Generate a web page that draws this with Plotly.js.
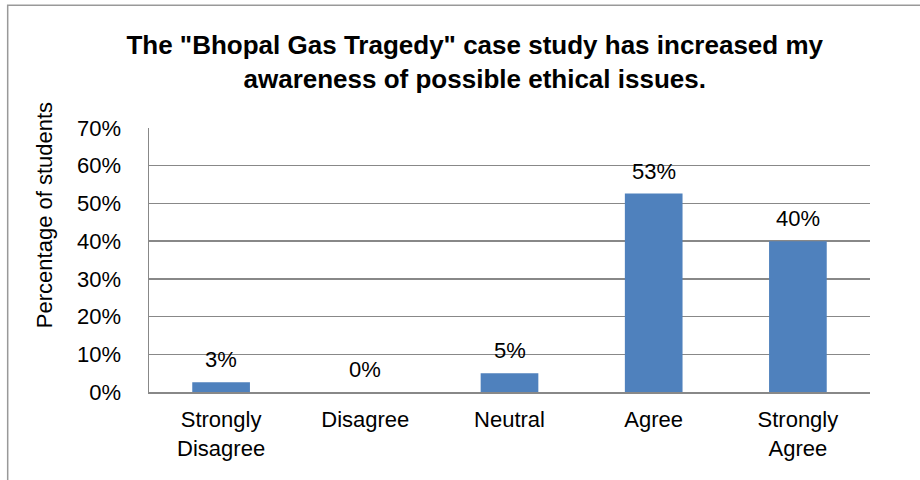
<!DOCTYPE html>
<html>
<head>
<meta charset="utf-8">
<script src="https://cdn.plot.ly/plotly-3.0.1.min.js"></script>
<style>
html,body{margin:0;padding:0;background:#fff;}
#chart{width:920px;height:480px;}
</style>
</head>
<body>
<div id="chart"></div>
<script>
const categories = ["Strongly<br>Disagree", "Disagree", "Neutral", "Agree", "Strongly<br>Agree"];
const values = [0.026, 0, 0.05, 0.526, 0.40];
const labels = ["3%", "0%", "5%", "53%", "40%"];
const yTickVals = [0, 0.1, 0.2, 0.3, 0.4, 0.5, 0.6, 0.7];
const yTickText = ["0%", "10%", "20%", "30%", "40%", "50%", "60%", "70%"];

const font = "Liberation Sans, Arial, sans-serif";

const trace = {
  type: "bar",
  x: categories,
  y: values,
  marker: {color: "#4F81BD", line: {width: 0}},
  width: 0.4,
  hoverinfo: "skip"
};

const annotations = categories.map((c, i) => ({
  x: c, y: values[i], xref: "x", yref: "y",
  text: labels[i], showarrow: false, yanchor: "bottom", yshift: 8,
  font: {family: font, size: 22, color: "#000"}
}));
annotations.push({
  xref: "paper", yref: "paper", x: -0.1456, y: 0.67, xanchor: "center", yanchor: "middle",
  text: "Percentage of students", textangle: -90, showarrow: false,
  font: {family: font, size: 22, color: "#000"}
});

const layout = {
  width: 920, height: 480,
  margin: {l: 149, r: 50, t: 128, b: 88},
  paper_bgcolor: "#fff", plot_bgcolor: "#fff",
  showlegend: false,
  title: {
    text: "<b>The \"Bhopal Gas Tragedy\" case study has increased my<br>awareness of possible ethical issues.</b>",
    font: {family: font, size: 26, color: "#000"},
    x: 0.516, xanchor: "center", y: 0.888, yanchor: "middle", xref: "container", yref: "container"
  },
  xaxis: {
    type: "category",
    showline: true, linecolor: "#888", linewidth: 1.5,
    ticks: "", showgrid: false,
    tickfont: {family: font, size: 22, color: "#000"},
    ticklabelstandoff: 7,
    fixedrange: true
  },
  yaxis: {
    range: [0, 0.7],
    tickvals: yTickVals, ticktext: yTickText,
    showline: true, linecolor: "#888", linewidth: 1.5,
    showgrid: true, gridcolor: "#888", gridwidth: 1.5,
    zeroline: false,
    ticks: "",
    tickfont: {family: font, size: 22, color: "#000"},
    ticklabelstandoff: 22,
    fixedrange: true
  },
  annotations: annotations,
  shapes: [{
    type: "rect", xref: "paper", yref: "paper",
    x0: -0.196, x1: 1.2, y0: -0.6, y1: 1.465,
    line: {color: "#999", width: 1.5}, fillcolor: "rgba(0,0,0,0)", layer: "below"
  }]
};

Plotly.newPlot("chart", [trace], layout, {displayModeBar: false, staticPlot: true});
</script>
</body>
</html>
